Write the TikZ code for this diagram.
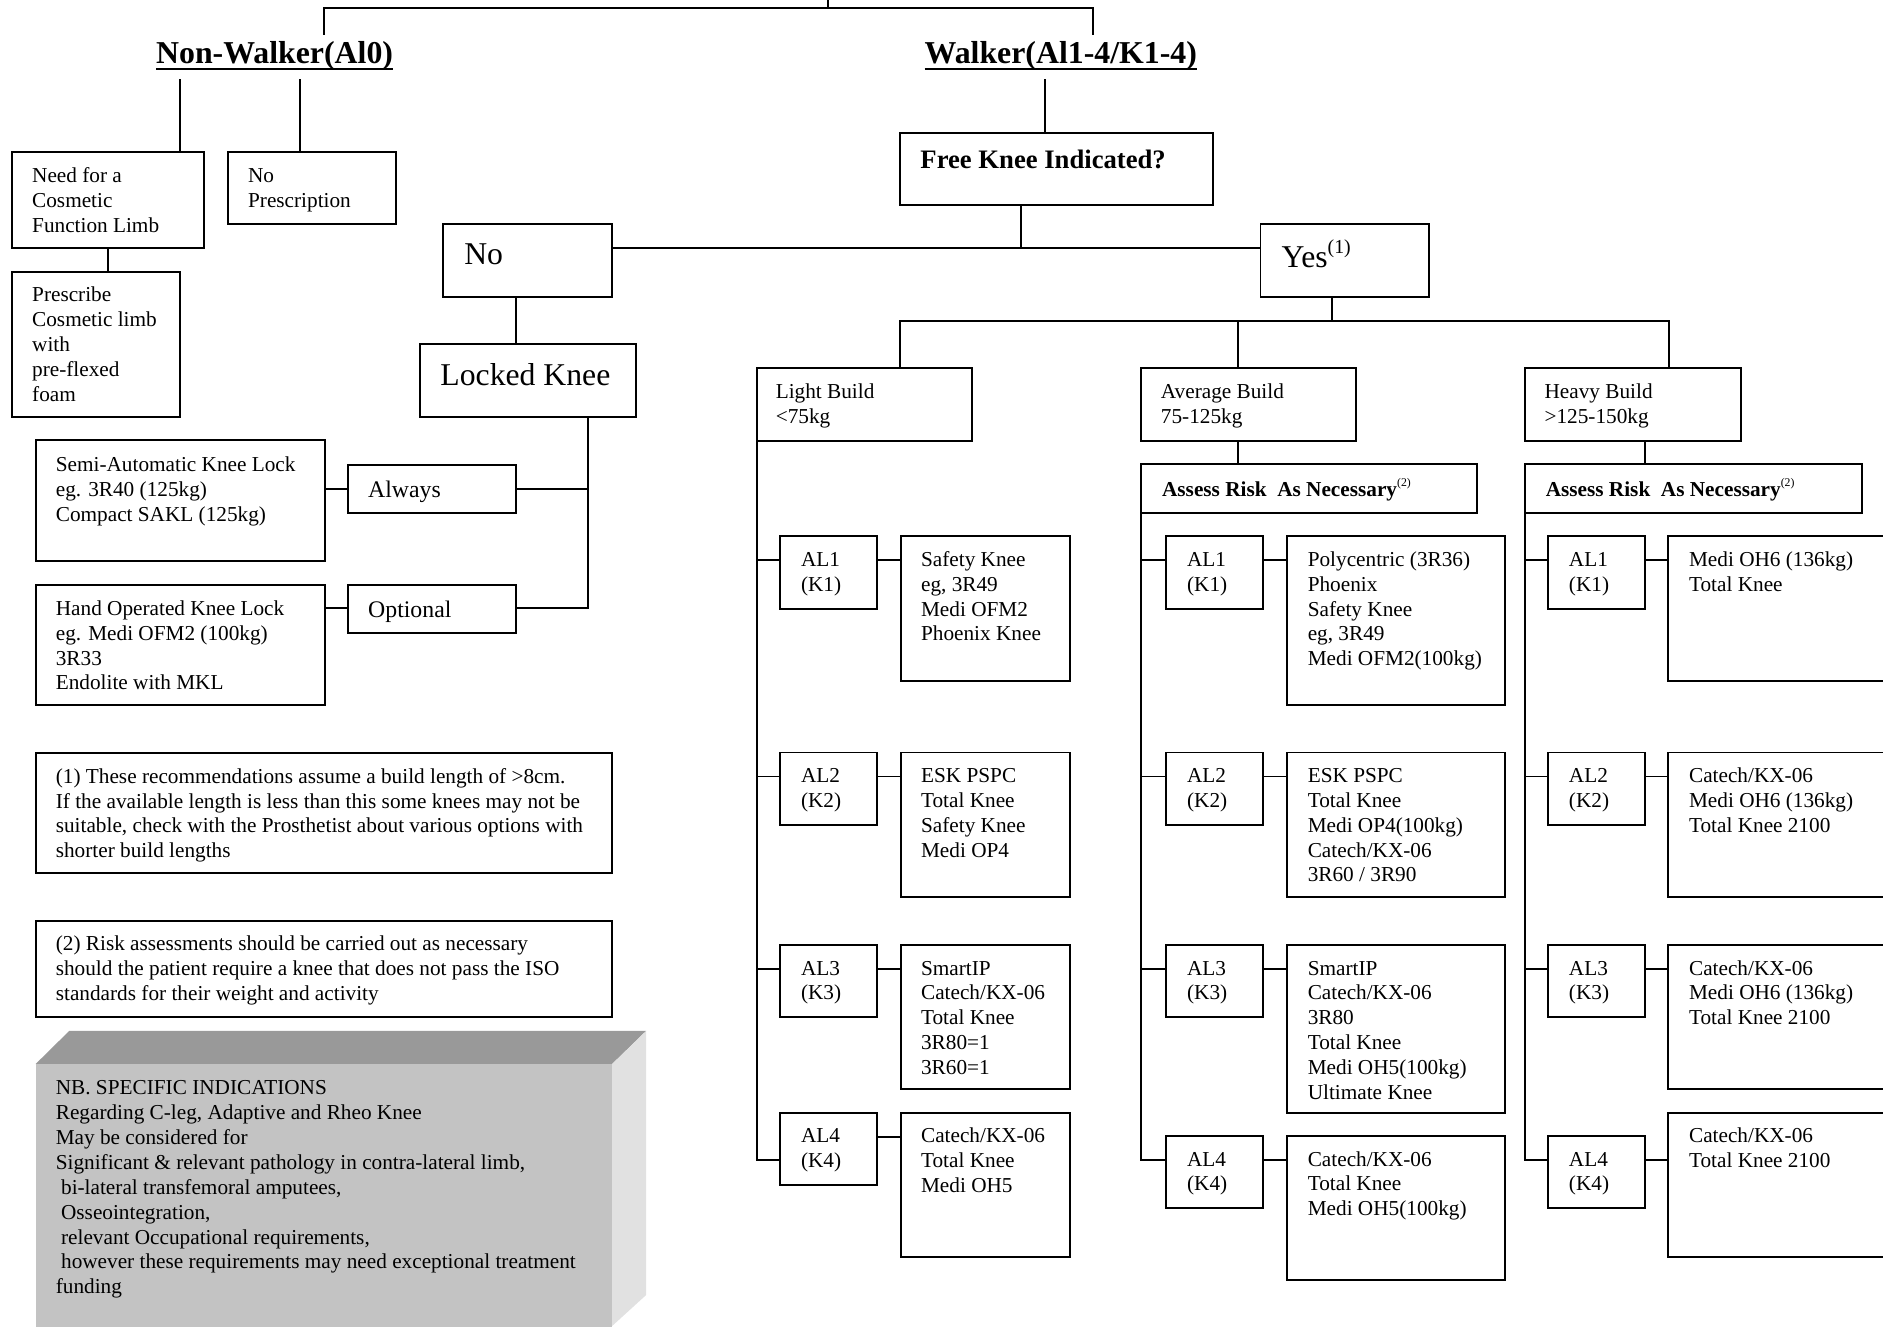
\documentclass[tikz,border=0pt]{standalone}
\usepackage{fontspec}
\setmainfont{Liberation Serif}
\usetikzlibrary{calc}
\definecolor{nbtop}{HTML}{999999}
\definecolor{nbfront}{HTML}{C3C3C3}
\definecolor{nbside}{HTML}{E1E1E1}
\newcommand\fbody{\fontsize{17.7}{20.7}\selectfont}
\newcommand\fbig{\fontsize{26.4}{30}\selectfont}
\newcommand\fmed{\fontsize{19.8}{23}\selectfont}
\newcommand\ffree{\bfseries\fontsize{22.2}{26}\selectfont}
\newcommand\ftitle{\bfseries\fontsize{26.5}{30}\selectfont}
\tikzset{
  bx/.style={draw, line width=1.6pt, rectangle, inner sep=0pt, outer sep=0pt, anchor=north west},
  txt/.style={anchor=north west, align=left, inner sep=0pt, outer sep=0pt},
  ln/.style={line width=1.6pt, line cap=rect},
  ttl/.style={anchor=base west, inner sep=0pt, outer sep=0pt, font=\ftitle},
}
\newcommand\mybox[5]{\pgfmathsetmacro\bxw{#4-#2}\pgfmathsetmacro\bxh{#5-#3}\node[bx, minimum width=\bxw pt, minimum height=\bxh pt] (#1) at (#2,#3) {};}
\newcommand\mytext[5]{\node[txt, font=#4] (#1t) at ($(#1.north west)+(#2,#3)$) {\strut #5};}
\begin{document}
\begin{tikzpicture}[x=1pt,y=-1pt]
\useasboundingbox (0,0) rectangle (1568,1104.2);
\clip (0,0) rectangle (1568,1104.2);

% ---------- top ----------
\node[ttl] (nwk) at (130,52.7) {Non-Walker(Al0)};
\node[ttl] (wk) at (770,52.7) {Walker(Al1-4/K1-4)};
\draw[line width=1.7pt] ($(nwk.base west)+(0,5)$) -- ($(nwk.base east)+(0,5)$);
\draw[line width=1.7pt] ($(wk.base west)+(0,5)$) -- ($(wk.base east)+(0,5)$);
\coordinate (tk) at (689.5,0);
\coordinate (tm) at (689.5,7);
\coordinate (tl) at (270,7);
\coordinate (tr) at (910,7);
\coordinate (tl2) at (270,28);
\coordinate (tr2) at (910,28);
\draw[ln] (tl2) -- (tl) -- (tr) -- (tr2);
\draw[ln] (tk) -- (tm);

% ---------- non-walker ----------
\mybox{need}{10}{126.8}{170}{206.8}
\mytext{need}{16.8}{10.7}{\fbody}{Need for a\\Cosmetic\\Function Limb}
\mybox{nopr}{189.6}{126.8}{329.7}{186.8}
\mytext{nopr}{17}{10.7}{\fbody}{No\\Prescription}
\mybox{presc}{10}{226.8}{150}{347}
\mytext{presc}{16.8}{10}{\fbody}{Prescribe\\Cosmetic limb\\with\\pre-flexed\\foam}
\coordinate (n1) at (150,66.6);
\coordinate (n2) at (250,66.6);
\draw[ln] (n1) -- (n1 |- need.north);
\draw[ln] (n2) -- (n2 |- nopr.north);
\draw[ln] (need.south) -- (need.south |- presc.north);

% ---------- walker ----------
\mybox{free}{749.5}{111}{1010}{171}
\mytext{free}{17}{10.8}{\ffree}{Free Knee Indicated?}
\coordinate (w1) at (870,66.6);
\draw[ln] (w1) -- (w1 |- free.north);
\mybox{no}{369}{186.8}{509.7}{247}
\mytext{no}{17.6}{12.8}{\fbig}{No}
\mybox{yes}{1049.6}{186.5}{1190}{247}
\mytext{yes}{17.6}{13}{\fbig}{Yes\raisebox{11.6pt}{\fontsize{16.5}{16.5}\selectfont(1)}}
\coordinate (hl) at (850,206.8);
\draw[ln] (hl |- free.south) -- (hl);
\draw[ln] (no.east |- hl) -- (yes.west |- hl);

% ---------- locked knee branch ----------
\mybox{lock}{349.8}{286.7}{529.7}{347}
\mytext{lock}{17}{13.3}{\fbig}{Locked Knee}
\coordinate (nl) at (430,0);
\draw[ln] (nl |- no.south) -- (nl |- lock.north);
\mybox{always}{289.6}{387}{430}{427}
\mytext{always}{17}{11.4}{\fmed}{Always}
\mybox{opt}{289.6}{487.2}{430}{527}
\mytext{opt}{17}{10.7}{\fmed}{Optional}
\mybox{semi}{29.7}{366.6}{270.3}{467}
\mytext{semi}{16.8}{11.5}{\fbody}{Semi-Automatic Knee Lock\\eg. 3R40 (125kg)\\Compact SAKL (125kg)}
\mybox{hand}{29.7}{487.2}{270.3}{587}
\mytext{hand}{16.8}{10.7}{\fbody}{Hand Operated Knee Lock\\eg. Medi OFM2 (100kg)\\3R33\\Endolite with MKL}
\coordinate (lk) at (490,0);
\coordinate (ya) at (0,407);
\coordinate (yo) at (0,506.6);
\draw[ln] (lk |- lock.south) -- (lk |- yo) -- (opt.east |- yo);
\draw[ln] (always.east |- ya) -- (lk |- ya);
\draw[ln] (semi.east |- ya) -- (always.west |- ya);
\draw[ln] (hand.east |- yo) -- (opt.west |- yo);

% ---------- notes ----------
\mybox{note1}{29.7}{627.2}{509.7}{727.1}
\mytext{note1}{16.8}{10.5}{\fbody}{(1) These recommendations assume a build length of >8cm.\\If the available length is less than this some knees may not be\\suitable, check with the Prosthetist about various options with\\shorter build lengths}
\mybox{note2}{29.7}{766.6}{509.7}{847}
\mytext{note2}{16.8}{10.5}{\fbody}{(2) Risk assessments should be carried out as necessary\\should the patient require a knee that does not pass the ISO\\standards for their weight and activity}

% ---------- NB 3D box ----------
\fill[nbtop] (29.7,886) -- (57.6,858.5) -- (538,858.5) -- (509.7,886) -- cycle;
\fill[nbside] (509.7,886) -- (538,858.5) -- (538,1078.4) -- (509.7,1104.2) -- cycle;
\node[fill=nbfront, rectangle, inner sep=0pt, outer sep=0pt, anchor=north west, minimum width=480pt, minimum height=220pt] (nb) at (29.7,886) {};
\mytext{nb}{16.8}{11.3}{\fbody}{NB. SPECIFIC INDICATIONS\\Regarding C-leg, Adaptive and Rheo Knee\\May be considered for\\Significant \& relevant pathology in contra-lateral limb,\\\hspace*{4.4pt}bi-lateral transfemoral amputees,\\\hspace*{4.4pt}Osseointegration,\\\hspace*{4.4pt}relevant Occupational requirements,\\\hspace*{4.4pt}however these requirements may need exceptional treatment\\funding}

% ---------- builds ----------
\mybox{light}{630}{306.7}{809.3}{367}
\mytext{light}{16}{10.5}{\fbody}{Light Build\\<75kg}
\mybox{avg}{950.2}{306.7}{1129.4}{367}
\mytext{avg}{16.5}{10.5}{\fbody}{Average Build\\75-125kg}
\mybox{heavy}{1269.7}{306.7}{1449.6}{367}
\mytext{heavy}{16.5}{10.5}{\fbody}{Heavy Build\\>125-150kg}
\coordinate (yb) at (1109,267);
\coordinate (b1) at (749.6,267);
\coordinate (b2) at (1031,267);
\coordinate (b3) at (1390,267);
\draw[ln] (yb |- yes.south) -- (yb);
\draw[ln] (b1) -- (b3);
\draw[ln] (b1) -- (b1 |- light.north);
\draw[ln] (b2) -- (b2 |- avg.north);
\draw[ln] (b3) -- (b3 |- heavy.north);

\mybox{asA}{950.2}{386.6}{1230}{427}
\mytext{asA}{17.5}{11.9}{\fbody\bfseries}{Assess Risk\ \ As Necessary\raisebox{8pt}{\fontsize{9.8}{9.8}\selectfont\mdseries(2)}}
\mybox{asH}{1269.7}{386.6}{1550.2}{427}
\mytext{asH}{17.5}{11.9}{\fbody\bfseries}{Assess Risk\ \ As Necessary\raisebox{8pt}{\fontsize{9.8}{9.8}\selectfont\mdseries(2)}}
\coordinate (aA) at (1031,0);
\coordinate (aH) at (1370,0);
\draw[ln] (aA |- avg.south) -- (aA |- asA.north);
\draw[ln] (aH |- heavy.south) -- (aH |- asH.north);

% ---------- row coordinates ----------
\coordinate (r1) at (0,466.6);
\coordinate (r2) at (0,646.6);
\coordinate (r3) at (0,806.6);
\coordinate (r4) at (0,966);
\coordinate (r4b) at (0,946.5);

% ---------- light column ----------
\mybox{LA1}{649.5}{446.6}{730}{507}
\mybox{LA2}{649.5}{626.6}{730}{687}
\mybox{LA3}{649.5}{787}{730}{847}
\mybox{LA4}{649.5}{926.5}{730}{987}
\mytext{LA1}{17.5}{10.5}{\fbody}{AL1\\(K1)}
\mytext{LA2}{17.5}{10.5}{\fbody}{AL2\\(K2)}
\mytext{LA3}{17.5}{10.5}{\fbody}{AL3\\(K3)}
\mytext{LA4}{17.5}{10.5}{\fbody}{AL4\\(K4)}
\mybox{LP1}{750}{446.6}{891}{567}
\mybox{LP2}{750}{626.6}{891}{747}
\mybox{LP3}{750}{787}{891}{906.5}
\mybox{LP4}{750}{926.5}{891}{1046.5}
\mytext{LP1}{17}{10.5}{\fbody}{Safety Knee\\eg, 3R49\\Medi OFM2\\Phoenix Knee}
\mytext{LP2}{17}{10.5}{\fbody}{ESK PSPC\\Total Knee\\Safety Knee\\Medi OP4}
\mytext{LP3}{17}{10.5}{\fbody}{SmartIP\\Catech/KX-06\\Total Knee\\3R80=1\\3R60=1}
\mytext{LP4}{17}{10.5}{\fbody}{Catech/KX-06\\Total Knee\\Medi OH5}
\draw[ln] (light.south west) -- (light.south west |- r4);
\draw[ln] (light.south west |- r1) -- (LA1.west |- r1);
\draw[ln] (light.south west |- r2) -- (LA2.west |- r2);
\draw[ln] (light.south west |- r3) -- (LA3.west |- r3);
\draw[ln] (light.south west |- r4) -- (LA4.west |- r4);
\draw[ln] (LA1.east |- r1) -- (LP1.west |- r1);
\draw[ln] (LA2.east |- r2) -- (LP2.west |- r2);
\draw[ln] (LA3.east |- r3) -- (LP3.west |- r3);
\draw[ln] (LA4.east |- r4b) -- (LP4.west |- r4b);

% ---------- average column ----------
\mybox{AA1}{971}{446.6}{1051.7}{507}
\mybox{AA2}{971}{626.6}{1051.7}{687}
\mybox{AA3}{971}{787}{1051.7}{847}
\mybox{AA4}{971}{946}{1051.7}{1006}
\mytext{AA1}{17.5}{10.5}{\fbody}{AL1\\(K1)}
\mytext{AA2}{17.5}{10.5}{\fbody}{AL2\\(K2)}
\mytext{AA3}{17.5}{10.5}{\fbody}{AL3\\(K3)}
\mytext{AA4}{17.5}{10.5}{\fbody}{AL4\\(K4)}
\mybox{AP1}{1072}{446.6}{1253}{587}
\mybox{AP2}{1072}{626.6}{1253}{747}
\mybox{AP3}{1072}{787}{1253}{927}
\mybox{AP4}{1072}{946}{1253}{1066}
\mytext{AP1}{17}{10.5}{\fbody}{Polycentric (3R36)\\Phoenix\\Safety Knee\\eg, 3R49\\Medi OFM2(100kg)}
\mytext{AP2}{17}{10.5}{\fbody}{ESK PSPC\\Total Knee\\Medi OP4(100kg)\\Catech/KX-06\\3R60 / 3R90}
\mytext{AP3}{17}{10.5}{\fbody}{SmartIP\\Catech/KX-06\\3R80\\Total Knee\\Medi OH5(100kg)\\Ultimate Knee}
\mytext{AP4}{17}{10.5}{\fbody}{Catech/KX-06\\Total Knee\\Medi OH5(100kg)}
\draw[ln] (asA.south west) -- (asA.south west |- r4);
\draw[ln] (asA.south west |- r1) -- (AA1.west |- r1);
\draw[ln] (asA.south west |- r2) -- (AA2.west |- r2);
\draw[ln] (asA.south west |- r3) -- (AA3.west |- r3);
\draw[ln] (asA.south west |- r4) -- (AA4.west |- r4);
\draw[ln] (AA1.east |- r1) -- (AP1.west |- r1);
\draw[ln] (AA2.east |- r2) -- (AP2.west |- r2);
\draw[ln] (AA3.east |- r3) -- (AP3.west |- r3);
\draw[ln] (AA4.east |- r4) -- (AP4.west |- r4);

% ---------- heavy column ----------
\mybox{HA1}{1289}{446.6}{1370}{507}
\mybox{HA2}{1289}{626.6}{1370}{687}
\mybox{HA3}{1289}{787}{1370}{847}
\mybox{HA4}{1289}{946}{1370}{1006}
\mytext{HA1}{17.5}{10.5}{\fbody}{AL1\\(K1)}
\mytext{HA2}{17.5}{10.5}{\fbody}{AL2\\(K2)}
\mytext{HA3}{17.5}{10.5}{\fbody}{AL3\\(K3)}
\mytext{HA4}{17.5}{10.5}{\fbody}{AL4\\(K4)}
\mybox{HP1}{1389}{446.6}{1600}{567}
\mybox{HP2}{1389}{626.6}{1600}{747}
\mybox{HP3}{1389}{787}{1600}{906.5}
\mybox{HP4}{1389}{926.5}{1600}{1046.5}
\mytext{HP1}{17.5}{10.5}{\fbody}{Medi OH6 (136kg)\\Total Knee}
\mytext{HP2}{17.5}{10.5}{\fbody}{Catech/KX-06\\Medi OH6 (136kg)\\Total Knee 2100}
\mytext{HP3}{17.5}{10.5}{\fbody}{Catech/KX-06\\Medi OH6 (136kg)\\Total Knee 2100}
\mytext{HP4}{17.5}{10.5}{\fbody}{Catech/KX-06\\Total Knee 2100}
\draw[ln] (asH.south west) -- (asH.south west |- r4);
\draw[ln] (asH.south west |- r1) -- (HA1.west |- r1);
\draw[ln] (asH.south west |- r2) -- (HA2.west |- r2);
\draw[ln] (asH.south west |- r3) -- (HA3.west |- r3);
\draw[ln] (asH.south west |- r4) -- (HA4.west |- r4);
\draw[ln] (HA1.east |- r1) -- (HP1.west |- r1);
\draw[ln] (HA2.east |- r2) -- (HP2.west |- r2);
\draw[ln] (HA3.east |- r3) -- (HP3.west |- r3);
\draw[ln] (HA4.east |- r4) -- (HP4.west |- r4);
\end{tikzpicture}
\end{document}
